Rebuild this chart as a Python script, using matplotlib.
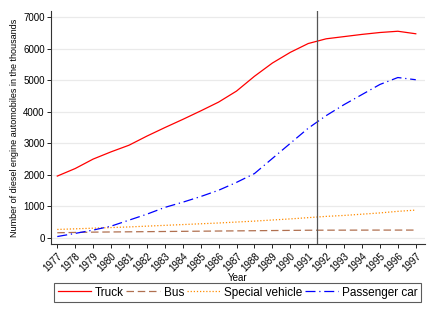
import matplotlib
matplotlib.use('Agg')
import matplotlib.pyplot as plt

plt.rcParams['font.family'] = ['Liberation Sans', 'DejaVu Sans']

years = list(range(1977, 1998))
truck = [1960, 2200, 2500, 2730, 2940, 3230, 3500, 3760, 4030, 4310, 4660,
         5130, 5550, 5890, 6170, 6320, 6390, 6460, 6520, 6560, 6480]
bus = [160, 170, 180, 185, 190, 195, 200, 205, 210, 215, 220,
       225, 230, 235, 240, 242, 243, 244, 245, 245, 245]
special = [265, 285, 305, 325, 345, 370, 395, 420, 445, 470, 500,
           530, 565, 600, 640, 680, 710, 750, 790, 840, 880]
passenger = [40, 140, 245, 370, 560, 750, 965, 1130, 1310, 1510, 1760,
             2040, 2520, 3000, 3480, 3880, 4230, 4550, 4870, 5090, 5020]
marker_year = 1991.5


def main():
    fig = plt.figure(figsize=(4.36, 3.17), dpi=100)
    ax = fig.add_axes([0.117, 0.229, 0.858, 0.736])

    ax.plot(years, truck, color='#ff0000', lw=0.9, label='Truck')
    ax.plot(years, bus, color='#b07050', lw=0.9, dashes=(6, 3), label='Bus')
    ax.plot(years, special, color='#ff8c00', lw=0.9, dashes=(1, 1.5),
            label='Special vehicle')
    ax.plot(years, passenger, color='#0000ff', lw=0.9,
            dashes=(8, 3, 1, 3), label='Passenger car')
    ax.axvline(marker_year, color='#555555', lw=0.9)

    ax.set_xlim(1976.65, 1997.52)
    ax.set_ylim(-210, 7200)
    ax.set_yticks(range(0, 7001, 1000))
    ax.set_xticks(years)
    ax.set_xticklabels([str(y) for y in years], rotation=45,
                       ha='right', rotation_mode='anchor')
    ax.tick_params(labelsize=7, length=3, width=0.6, pad=1.5)
    ax.grid(axis='y', color='#eaeaea', lw=0.9)
    ax.set_axisbelow(True)
    for s in ['top', 'right']:
        ax.spines[s].set_visible(False)
    for s in ['left', 'bottom']:
        ax.spines[s].set_linewidth(0.8)
        ax.spines[s].set_color('#333333')

    ax.set_ylabel('Number of diesel engine automobiles in the thousands',
                  fontsize=6.5, labelpad=3)
    ax.set_xlabel('Year', fontsize=7, labelpad=0)

    leg = fig.legend(loc='lower left', ncol=4, mode='expand',
                     bbox_to_anchor=(0.124, 0.047, 0.842, 0.063),
                     fontsize=8.5, frameon=True, fancybox=False,
                     handlelength=2.8, handletextpad=0.35,
                     borderaxespad=0, borderpad=0.3, columnspacing=0.6)
    leg.get_frame().set_edgecolor('#333333')
    leg.get_frame().set_linewidth(0.8)

    fig.savefig('out.png', dpi=100)


if __name__ == '__main__':
    main()
